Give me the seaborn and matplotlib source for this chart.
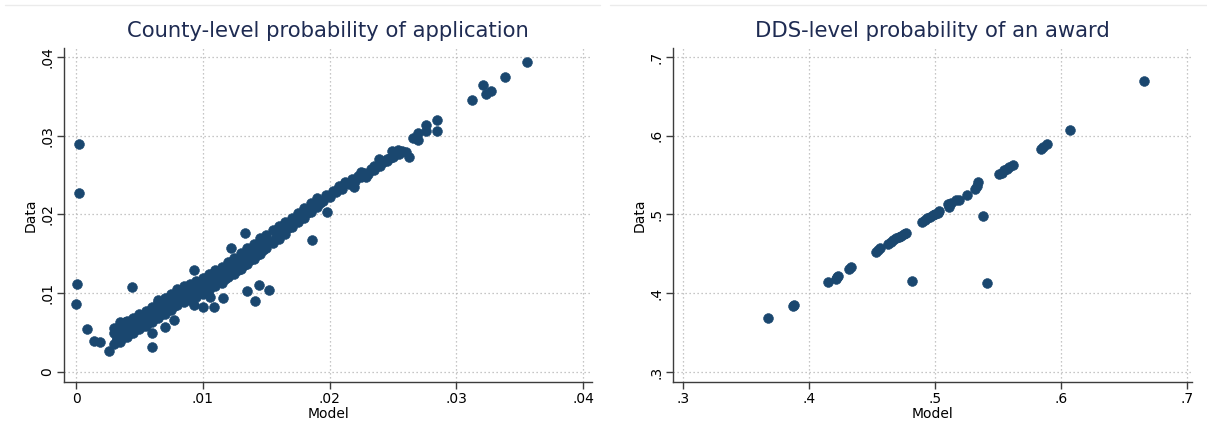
import matplotlib
matplotlib.use("Agg")
import matplotlib.pyplot as plt
from matplotlib.lines import Line2D
import seaborn as sns
import pandas as pd

# ---------------------------------------------------------------
# County-level probability of application: model vs. data
# ---------------------------------------------------------------
# Main body of counties, grouped by model value
county_band_model = [
    0.0030, 0.00325, 0.0030,
    0.0035, 0.00375, 0.0035, 0.00375, 0.0035,
    0.0040, 0.00425, 0.0040, 0.00425, 0.0040,
    0.0045, 0.00475, 0.0045, 0.00475, 0.0045,
    0.0050, 0.00525, 0.0050, 0.00525, 0.0050,
    0.0055, 0.00575, 0.0055, 0.00575, 0.0055,
    0.0060, 0.00625, 0.0060, 0.00625, 0.0060,
    0.0065, 0.00675, 0.0065, 0.00675, 0.0065,
    0.0070, 0.00725, 0.0070, 0.00725, 0.0070,
    0.0075, 0.00775, 0.0075, 0.00775, 0.0075,
    0.0080, 0.00825, 0.0080, 0.00825, 0.0080,
    0.0085, 0.00875, 0.0085, 0.00875, 0.0085,
    0.0090, 0.00925, 0.0090, 0.00925, 0.0090,
    0.0095, 0.00975, 0.0095, 0.00975, 0.0095,
    0.0100, 0.01025, 0.0100, 0.01025, 0.0100,
    0.0105, 0.01075, 0.0105, 0.01075, 0.0105,
    0.0110, 0.01125, 0.0110, 0.01125, 0.0110,
    0.0115, 0.01175, 0.0115, 0.01175, 0.0115,
    0.0120, 0.01225, 0.0120, 0.01225, 0.0120,
    0.0125, 0.01275, 0.0125, 0.01275, 0.0125,
    0.0130, 0.01325, 0.0130, 0.01325, 0.0130,
    0.0135, 0.01375, 0.0135, 0.01375, 0.0135,
    0.0140, 0.01425, 0.0140, 0.01425, 0.0140,
    0.0145, 0.01475, 0.0145, 0.01475, 0.0145,
    0.0150, 0.01525, 0.0150,
    0.0155, 0.01575, 0.0155,
    0.0160, 0.01625, 0.0160,
    0.0165, 0.01675, 0.0165,
    0.0170, 0.01725, 0.0170,
    0.0175, 0.01775, 0.0175,
    0.0180, 0.01825, 0.0180,
    0.0185, 0.01875, 0.0185,
    0.0190, 0.01925, 0.0190,
    0.0195, 0.01975,
    0.0200, 0.02025,
    0.0205, 0.02075,
    0.0210, 0.02125,
    0.0215, 0.02175,
    0.0220, 0.02225,
    0.0225, 0.02275,
    0.0230, 0.02325,
    0.0235, 0.02375,
    0.0240, 0.02425,
    0.0245, 0.02475,
    0.0250, 0.02525,
    0.0255, 0.02575,
]
county_band_data = [
    0.0035, 0.0042, 0.0049,
    0.0038, 0.0045, 0.0050, 0.0055, 0.0060,
    0.0045, 0.0050, 0.0055, 0.0060, 0.0065,
    0.0049, 0.0054, 0.0059, 0.0064, 0.0069,
    0.0054, 0.0059, 0.0064, 0.0069, 0.0074,
    0.0058, 0.0063, 0.0068, 0.0073, 0.0078,
    0.0063, 0.0068, 0.0073, 0.0078, 0.0083,
    0.0069, 0.0074, 0.0079, 0.0084, 0.0089,
    0.0074, 0.0079, 0.0084, 0.0089, 0.0094,
    0.0079, 0.0084, 0.0089, 0.0094, 0.0099,
    0.0085, 0.0090, 0.0095, 0.0100, 0.0105,
    0.0089, 0.0094, 0.0099, 0.0104, 0.0109,
    0.0092, 0.0097, 0.0102, 0.0107, 0.0112,
    0.0095, 0.0100, 0.0105, 0.0110, 0.0115,
    0.0099, 0.0104, 0.0109, 0.0114, 0.0119,
    0.0104, 0.0109, 0.0114, 0.0119, 0.0124,
    0.0109, 0.0114, 0.0119, 0.0124, 0.0129,
    0.0113, 0.0118, 0.0123, 0.0128, 0.0133,
    0.0120, 0.0125, 0.0130, 0.0135, 0.0140,
    0.0125, 0.0130, 0.0135, 0.0140, 0.0145,
    0.0131, 0.0136, 0.0141, 0.0146, 0.0151,
    0.0137, 0.0142, 0.0147, 0.0152, 0.0157,
    0.0143, 0.0148, 0.0153, 0.0158, 0.0163,
    0.0150, 0.0155, 0.0160, 0.0165, 0.0170,
    0.0158, 0.0166, 0.0174,
    0.0164, 0.0172, 0.0180,
    0.0169, 0.0177, 0.0185,
    0.0175, 0.0183, 0.0191,
    0.0184, 0.0190, 0.0196,
    0.0190, 0.0196, 0.0202,
    0.0196, 0.0202, 0.0208,
    0.0203, 0.0209, 0.0215,
    0.0209, 0.0215, 0.0221,
    0.0217, 0.0225,
    0.0222, 0.0230,
    0.0228, 0.0236,
    0.0233, 0.0241,
    0.0239, 0.0245,
    0.0243, 0.0249,
    0.0247, 0.0253,
    0.0252, 0.0258,
    0.0256, 0.0262,
    0.0261, 0.0267,
    0.0268, 0.0272,
    0.0273, 0.0277,
    0.0277, 0.0281,
]

# Counties away from the main body and along the upper tail
county_other_model = [
    0.0002, 0.0002, 0.0001, 0.0000, 0.0009, 0.0014, 0.0019, 0.0026,
    0.0044, 0.0060, 0.0030, 0.0060, 0.0070, 0.0077, 0.0093, 0.0093,
    0.0100, 0.0106, 0.0109, 0.0116, 0.0122, 0.0133, 0.0135, 0.0144,
    0.0141, 0.0152, 0.0186, 0.0198, 0.0035, 0.0039, 0.0032, 0.0065,
    0.0206, 0.0212, 0.0219, 0.0225, 0.0229, 0.0235, 0.0239, 0.0245,
    0.0249, 0.0254, 0.0260, 0.0263, 0.0266, 0.0270, 0.0270, 0.0276,
    0.0276, 0.0285, 0.0285, 0.0312, 0.0321, 0.0323, 0.0327, 0.0338,
    0.0356,
]
county_other_data = [
    0.0290, 0.0227, 0.0112, 0.0086, 0.0055, 0.0039, 0.0038, 0.0027,
    0.0108, 0.0032, 0.0056, 0.0049, 0.0057, 0.0066, 0.0130, 0.0085,
    0.0082, 0.0095, 0.0083, 0.0094, 0.0157, 0.0177, 0.0103, 0.0110,
    0.0090, 0.0104, 0.0167, 0.0203, 0.0064, 0.0063, 0.0042, 0.0092,
    0.0231, 0.0240, 0.0235, 0.0254, 0.0248, 0.0262, 0.0271, 0.0270,
    0.0281, 0.0282, 0.0279, 0.0273, 0.0297, 0.0294, 0.0303, 0.0306,
    0.0314, 0.0320, 0.0306, 0.0346, 0.0364, 0.0353, 0.0357, 0.0374,
    0.0394,
]

# ---------------------------------------------------------------
# DDS-level probability of an award: model vs. data
# ---------------------------------------------------------------
dds_model = [
    0.367, 0.387, 0.388, 0.415, 0.421, 0.422, 0.423, 0.432, 0.433,
    0.453, 0.455, 0.456, 0.463, 0.465, 0.467, 0.469, 0.471, 0.473,
    0.475, 0.477, 0.482, 0.490, 0.492, 0.494, 0.496, 0.498, 0.500,
    0.502, 0.503, 0.510, 0.511, 0.513, 0.517, 0.519, 0.525, 0.532,
    0.533, 0.534, 0.538, 0.541, 0.551, 0.553, 0.555, 0.557, 0.559,
    0.562, 0.584, 0.586, 0.589, 0.607, 0.666,
]
dds_data = [
    0.369, 0.384, 0.385, 0.414, 0.418, 0.421, 0.422, 0.431, 0.433,
    0.452, 0.455, 0.457, 0.462, 0.465, 0.468, 0.470, 0.471, 0.473,
    0.475, 0.477, 0.416, 0.491, 0.493, 0.495, 0.497, 0.499, 0.500,
    0.502, 0.504, 0.513, 0.510, 0.515, 0.518, 0.519, 0.525, 0.532,
    0.536, 0.541, 0.498, 0.413, 0.551, 0.553, 0.556, 0.558, 0.560,
    0.563, 0.583, 0.586, 0.589, 0.607, 0.669,
]

# Axis ticks and labels
county_ticks = [0.0, 0.01, 0.02, 0.03, 0.04]
county_tick_labels = ["0", ".01", ".02", ".03", ".04"]
dds_ticks = [0.3, 0.4, 0.5, 0.6, 0.7]
dds_tick_labels = [".3", ".4", ".5", ".6", ".7"]

county_title = "County-level probability of application"
dds_title = "DDS-level probability of an award"

# ---------------------------------------------------------------
sns.set_theme(style="white")
plt.rcParams["font.family"] = ["DejaVu Sans"]

MARKER = "#1a476f"
TITLE_COLOR = "#1e2b52"
GRID = "#b4b4b4"
AXIS = "#3c3c3c"

fig = plt.figure(figsize=(12.07, 4.34), dpi=100)
ax1 = fig.add_axes([0.0530, 0.1198, 0.4375, 0.7696])
ax2 = fig.add_axes([0.5576, 0.1198, 0.4300, 0.7696])

county = pd.DataFrame({
    "Model": county_band_model + county_other_model,
    "Data": county_band_data + county_other_data,
})
dds = pd.DataFrame({"Model": dds_model, "Data": dds_data})

for ax, df in ((ax1, county), (ax2, dds)):
    sns.scatterplot(data=df, x="Model", y="Data", ax=ax, color=MARKER,
                    s=50, edgecolor=MARKER, linewidth=0.4, zorder=3)


def style(ax, ticks, labels, xlim, ylim, title):
    ax.set_xlim(*xlim)
    ax.set_ylim(*ylim)
    ax.set_xticks(ticks)
    ax.set_xticklabels(labels)
    ax.set_yticks(ticks)
    ax.set_yticklabels(labels, rotation=90, va="center")
    ax.grid(True, linestyle=(0, (1, 2.2)), color=GRID, linewidth=0.9)
    ax.set_axisbelow(True)
    for side in ("top", "right"):
        ax.spines[side].set_visible(False)
    for side in ("left", "bottom"):
        ax.spines[side].set_color(AXIS)
        ax.spines[side].set_linewidth(1.0)
    ax.tick_params(axis="both", which="major", direction="out", length=5,
                   width=1.0, color=AXIS, labelsize=10, labelcolor="black",
                   pad=2, bottom=True, left=True)
    ax.set_xlabel("Model", fontsize=10, labelpad=1, color="black")
    ax.set_ylabel("Data", fontsize=10, labelpad=2, color="black")
    ax.set_title(title, fontsize=15.2, color=TITLE_COLOR, pad=8)


style(ax1, county_ticks, county_tick_labels, (-0.00095, 0.0407),
      (-0.00127, 0.04114), county_title)
style(ax2, dds_ticks, dds_tick_labels, (0.292, 0.704),
      (0.2873, 0.7114), dds_title)

# Faint frame edges along the top of each panel
fig.add_artist(Line2D([5 / 1207, 600 / 1207], [1 - 5 / 434] * 2,
                      color="#ebebeb", lw=1.0))
fig.add_artist(Line2D([610 / 1207, 1.0], [1 - 5 / 434] * 2,
                      color="#ebebeb", lw=1.0))

fig.savefig("out.png", dpi=100, facecolor="white")
